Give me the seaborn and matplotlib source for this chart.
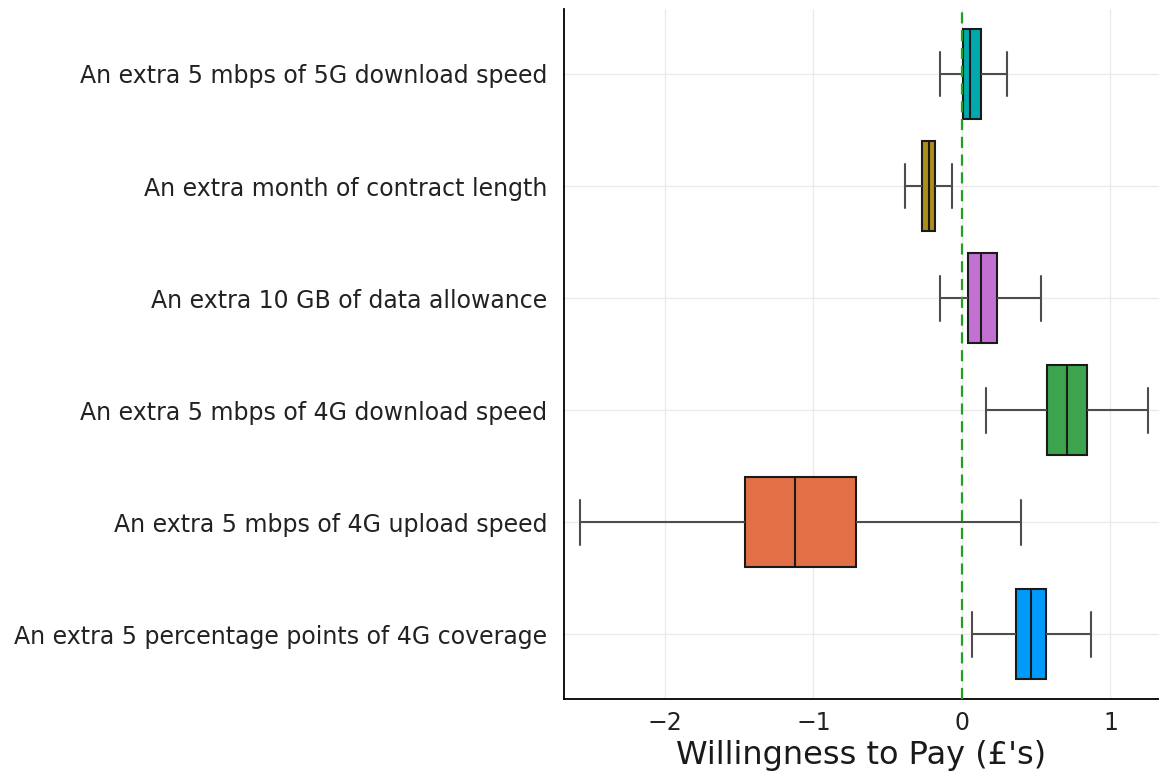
import matplotlib
matplotlib.use("Agg")
import matplotlib.pyplot as plt
import numpy as np
import pandas as pd
import seaborn as sns

# Attributes, listed top to bottom
attributes = [
    "An extra 5 mbps of 5G download speed",
    "An extra month of contract length",
    "An extra 10 GB of data allowance",
    "An extra 5 mbps of 4G download speed",
    "An extra 5 mbps of 4G upload speed",
    "An extra 5 percentage points of 4G coverage",
]

# Five-number summaries of willingness to pay (£): min, Q1, median, Q3, max
wtp_min = [-0.15, -0.385, -0.15, 0.165, -2.575, 0.065]
wtp_q1 = [0.005, -0.266, 0.038, 0.570, -1.459, 0.365]
wtp_median = [0.054, -0.223, 0.126, 0.707, -1.126, 0.464]
wtp_q3 = [0.126, -0.182, 0.239, 0.843, -0.712, 0.568]
wtp_max = [0.304, -0.066, 0.532, 1.252, 0.399, 0.869]

colors = ["#00A9AD", "#AC8E18", "#C271D2", "#3DA44D", "#E26F46", "#009AFA"]

rows = []
for i, name in enumerate(attributes):
    for v in (wtp_min[i], wtp_q1[i], wtp_median[i], wtp_q3[i], wtp_max[i]):
        rows.append({"attribute": name, "wtp": v})
df = pd.DataFrame(rows)

sns.set_style("white")
plt.rcParams["font.family"] = ["DejaVu Sans"]

fig = plt.figure(figsize=(11.59, 7.83), dpi=100)
ax = fig.add_axes([0.4866, 0.1073, 0.5134, 0.8808])

edge = "#1a1a1a"
whisk = "#4d4d4d"
sns.boxplot(
    data=df, x="wtp", y="attribute", hue="attribute", order=attributes,
    hue_order=attributes, palette=colors, saturation=1, whis=(0, 100),
    width=0.8, linewidth=1.5, linecolor=edge, legend=False, ax=ax,
    whiskerprops={"color": whisk, "linewidth": 1.5},
    capprops={"color": whisk, "linewidth": 1.5},
    medianprops={"color": edge, "linewidth": 1.5},
    boxprops={"edgecolor": edge, "linewidth": 1.5},
)

ax.axvline(0, color="#22A022", linestyle=(0, (5, 3)), linewidth=1.6, zorder=5)

ax.set_xlim(-2.68, 1.327)
ax.set_ylim(5.577, -0.577)
ax.set_xticks([-2, -1, 0, 1])
ax.set_xticklabels(["\u22122", "\u22121", "0", "1"])
ax.grid(True, color="#ebebeb", linewidth=1.0)
ax.set_axisbelow(True)

for side in ("top", "right"):
    ax.spines[side].set_visible(False)
for side in ("left", "bottom"):
    ax.spines[side].set_color("black")
    ax.spines[side].set_linewidth(1.3)

ax.tick_params(axis="both", direction="in", length=5, width=1.0, colors="black",
               labelcolor="#222222", labelsize=17)
ax.tick_params(axis="y", pad=12)
ax.tick_params(axis="x", pad=9)
ax.set_ylabel("")
ax.set_xlabel("Willingness to Pay (£'s)", fontsize=23, color="#1a1a1a", labelpad=3)

fig.savefig("out.png", dpi=100)
